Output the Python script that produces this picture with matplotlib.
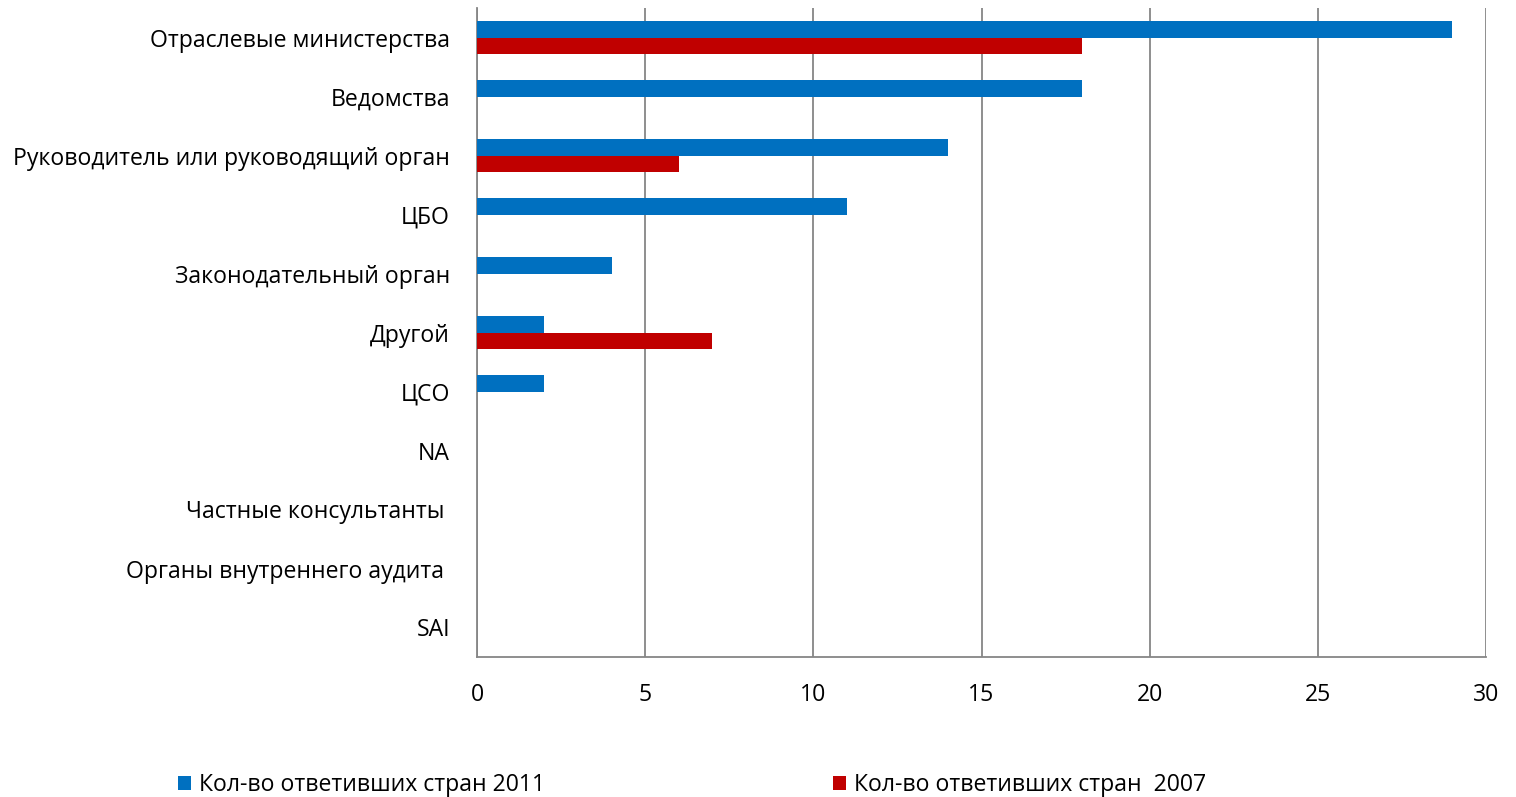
import matplotlib
matplotlib.use("Agg")
import matplotlib.pyplot as plt
import numpy as np

plt.rcParams['font.family'] = ['Open Sans', 'DejaVu Sans']

categories = ["Отраслевые министерства", "Ведомства", "Руководитель или руководящий орган",
              "ЦБО", "Законодательный орган", "Другой", "ЦСО", "NA",
              "Частные консультанты ", "Органы внутреннего аудита ", "SAI"]
values_2011 = [29, 18, 14, 11, 4, 2, 2, 0, 0, 0, 0]
values_2007 = [18, 0, 6, 0, 0, 7, 0, 0, 0, 0, 0]
series_names = ["Кол-во ответивших стран 2011", "Кол-во ответивших стран  2007"]
xticks = [0, 5, 10, 15, 20, 25, 30]

blue = "#0070C0"
red = "#C00000"
grey = "#868686"

fig = plt.figure(figsize=(15.16, 7.97), dpi=100)
ax = fig.add_axes([477/1516, 1-657/797, (1486-477)/1516, (657-8)/797])

n = len(categories)
y = np.arange(n)
h = 0.285
b1 = ax.barh(y - h/2, values_2011, height=h, color=blue, label=series_names[0], zorder=3)
b2 = ax.barh(y + h/2, values_2007, height=h, color=red, label=series_names[1], zorder=3)

ax.set_ylim(n - 0.5, -0.5)
ax.set_xlim(0, 30)
ax.set_xticks(xticks)
ax.set_xticklabels([str(t) for t in xticks])
ax.set_yticks(y)
ax.set_yticklabels(categories)
ax.tick_params(axis='y', length=0, pad=19.4, labelsize=16.6)
ax.tick_params(axis='x', length=0, pad=18.5, labelsize=16.6)
ax.xaxis.grid(True, color=grey, linewidth=1.3, zorder=0)
for s in ['top', 'right']:
    ax.spines[s].set_visible(False)
for s in ['left', 'bottom']:
    ax.spines[s].set_color(grey)
    ax.spines[s].set_linewidth(1.3)

fig.legend(handles=[b1, b2], labels=series_names, loc='center left',
           bbox_to_anchor=(178/1516, 1-785/797), ncol=2, frameon=False,
           fontsize=16.6, handlelength=0.55, handleheight=0.55, handletextpad=0.35,
           columnspacing=12.5, borderaxespad=0, borderpad=0)

fig.savefig("out.png", dpi=100)
